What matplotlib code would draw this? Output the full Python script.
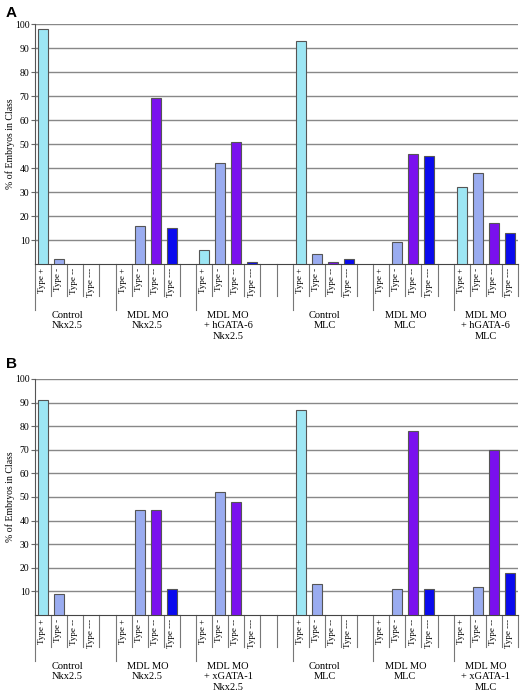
import matplotlib.pyplot as plt
import numpy as np

types = ['Type +', 'Type -', 'Type --', 'Type ---']
colors = ['#9de6f4', '#9aacf0', '#7a10ee', '#0a0aee']

groups_a = ['Control\nNkx2.5', 'MDL MO\nNkx2.5', 'MDL MO\n+ hGATA-6\nNkx2.5',
            'Control\nMLC', 'MDL MO\nMLC', 'MDL MO\n+ hGATA-6\nMLC']
vals_a = [[98, 2, 0, 0],
          [0, 16, 69, 15],
          [6, 42, 51, 1],
          [93, 4, 1, 2],
          [0, 9, 46, 45],
          [32, 38, 17, 13]]

groups_b = ['Control\nNkx2.5', 'MDL MO\nNkx2.5', 'MDL MO\n+ xGATA-1\nNkx2.5',
            'Control\nMLC', 'MDL MO\nMLC', 'MDL MO\n+ xGATA-1\nMLC']
vals_b = [[91, 9, 0, 0],
          [0, 44.5, 44.5, 11],
          [0, 52, 48, 0],
          [87, 13, 0, 0],
          [0, 11, 78, 11],
          [0, 12, 70, 18]]

# first slot of each group (extra empty slot between Nkx2.5 and MLC halves)
group_start = [0, 5, 10, 16, 21, 26]
nslots = 30

plt.rcParams['font.family'] = 'Liberation Serif'

W, H = 532, 693
fig = plt.figure(figsize=(W / 100, H / 100), dpi=100)


def panel(top, bottom, groups, vals, letter, letter_y):
    ax = fig.add_axes([35 / W, 1 - bottom / H, (518 - 35) / W, (bottom - top) / H])
    for g, start in enumerate(group_start):
        for k in range(4):
            v = vals[g][k]
            if v <= 0:
                continue
            ax.bar(start + k + 0.5, v, width=0.62, color=colors[k],
                   edgecolor='#555555', linewidth=0.8, zorder=3)
    ax.set_xlim(0, nslots)
    ax.set_ylim(0, 100)
    ax.set_yticks(np.arange(10, 101, 10))
    ax.tick_params(axis='y', labelsize=7, length=3, width=0.8, pad=1, color='#666666')
    ax.set_xticks([])
    for y in range(10, 101, 10):
        ax.axhline(y, color='#888888', lw=1.0, zorder=1)
    for s in ['top', 'right']:
        ax.spines[s].set_visible(False)
    ax.spines['left'].set_color('#555555')
    ax.spines['bottom'].set_color('#444444')
    fig.text(10 / W, 1 - (top + bottom) / 2 / H, '% of Embryos in Class',
             fontsize=7, rotation=90, ha='center', va='center')

    trans = ax.get_xaxis_transform()
    axh = (bottom - top)
    short = -32 / axh
    long_ = -46 / axh
    for s in range(nslots + 1):
        y1 = long_ if s in group_start else short
        ax.plot([s, s], [0, y1], transform=trans, color='#777777', lw=0.8,
                clip_on=False)
    for g, start in enumerate(group_start):
        for k in range(4):
            ax.text(start + k + 0.45, -4 / axh, types[k], transform=trans,
                    rotation=90, ha='center', va='top', fontsize=6.5)
        ax.text(start + 2, -47 / axh, groups[g], transform=trans,
                ha='center', va='top', fontsize=7.5, linespacing=1.2)
    fig.text(6 / W, 1 - letter_y / H, letter, fontsize=11, fontweight='bold',
             family='Liberation Sans', va='top')
    return ax


panel(24, 264, groups_a, vals_a, 'A', 6)
panel(379, 615, groups_b, vals_b, 'B', 357)

fig.savefig('out.png', dpi=100)
